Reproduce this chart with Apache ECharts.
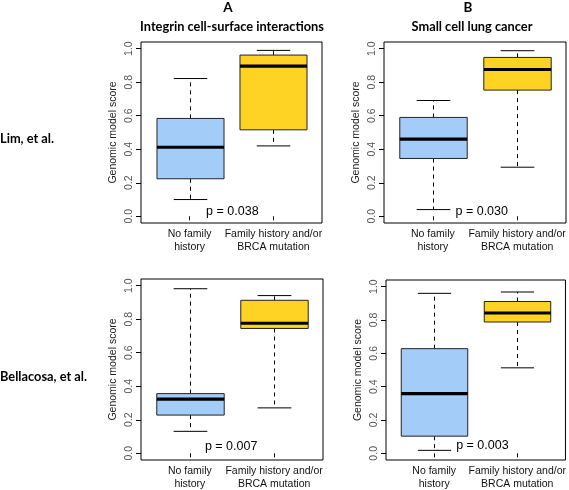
<!DOCTYPE html>
<html><head><meta charset="utf-8">
<script src="https://cdn.jsdelivr.net/npm/echarts@6/dist/echarts.min.js"></script>
<style>html,body{margin:0;padding:0;background:#fff}#c{width:569px;height:490px}</style>
</head><body><div id="c"></div><script>
// ---- data ----
const categories = ['No family\nhistory', 'Family history and/or\nBRCA mutation'];
const yTicks = [0, 0.2, 0.4, 0.6, 0.8, 1.0];
// each box: [low whisker, Q1, median, Q3, high whisker]
const limIntegrin = [[0.10, 0.224, 0.412, 0.584, 0.822], [0.42, 0.516, 0.896, 0.962, 0.99]];
const limSclc = [[0.04, 0.345, 0.46, 0.59, 0.691], [0.293, 0.753, 0.876, 0.948, 0.988]];
const bellacosaIntegrin = [[0.131, 0.228, 0.323, 0.356, 0.982], [0.271, 0.745, 0.776, 0.913, 0.941]];
const bellacosaSclc = [[0.018, 0.103, 0.358, 0.628, 0.96], [0.513, 0.788, 0.842, 0.911, 0.968]];
const pValues = ['p = 0.038', 'p = 0.030', 'p = 0.007', 'p = 0.003'];
const columnLetters = ['A', 'B'];
const columnTitles = ['Integrin cell-surface interactions', 'Small cell lung cancer'];
const rowTitles = ['Lim, et al.', 'Bellacosa, et al.'];
const yName = 'Genomic model score';

// ---- layout / style ----
const boxColors = ['#a3cdf8', '#ffd324'];
const panels = [
  {data: limIntegrin, p: pValues[0], pPos: [1.51, 0.03], grid: {left: 141, top: 42, width: 181, height: 181}},
  {data: limSclc, p: pValues[1], pPos: [1.58, 0.03], grid: {left: 384, top: 42, width: 182, height: 181}},
  {data: bellacosaIntegrin, p: pValues[2], pPos: [1.49, 0.04], grid: {left: 141, top: 279, width: 182, height: 182}},
  {data: bellacosaSclc, p: pValues[3], pPos: [1.58, 0.045], grid: {left: 386, top: 280, width: 182, height: 181}}
];

function renderBox(params, api) {
  const x = api.value(0);
  const ys = [1, 2, 3, 4, 5].map(i => api.coord([x, api.value(i)])[1]);
  const [yLo, yQ1, yMd, yQ3, yHi] = ys;
  const cx = Math.round(api.coord([x, 0])[0]) + 0.5;
  const w = api.size([0.8, 0])[0];
  const dashed = {stroke: '#000', lineWidth: 1, lineDash: [4, 4]};
  const solid = {stroke: '#000', lineWidth: 1};
  return {type: 'group', children: [
    {type: 'line', shape: {x1: cx, y1: yQ3, x2: cx, y2: yHi}, style: dashed},
    {type: 'line', shape: {x1: cx, y1: yQ1, x2: cx, y2: yLo}, style: dashed},
    {type: 'line', shape: {x1: cx - w / 4, y1: yHi, x2: cx + w / 4, y2: yHi}, style: solid},
    {type: 'line', shape: {x1: cx - w / 4, y1: yLo, x2: cx + w / 4, y2: yLo}, style: solid},
    {type: 'rect', shape: {x: cx - w / 2, y: yQ3, width: w, height: yQ1 - yQ3},
      style: {fill: boxColors[params.dataIndex], stroke: '#222', lineWidth: 1}},
    {type: 'line', shape: {x1: cx - w / 2, y1: yMd, x2: cx + w / 2, y2: yMd}, style: {stroke: '#000', lineWidth: 3.2}}
  ]};
}
function renderP(params, api) {
  const c = api.coord([api.value(0), api.value(1)]);
  return {type: 'text', x: c[0], y: c[1], style: {text: panels[params.seriesIndex / 2 | 0].p,
    textAlign: 'center', textVerticalAlign: 'middle', fill: '#000',
    font: '12.5px "Liberation Sans", Arial, sans-serif'}};
}

const grids = [], xAxes = [], yAxes = [], series = [];
panels.forEach((pn, i) => {
  grids.push(Object.assign({show: true, borderColor: '#000', borderWidth: 1, backgroundColor: 'transparent'}, pn.grid));
  xAxes.push({type: 'value', gridIndex: i, min: 0.42, max: 2.58,
    axisLine: {show: false}, splitLine: {show: false},
    axisTick: {show: true, customValues: [1, 2], length: 4, lineStyle: {color: '#000'}},
    axisLabel: {customValues: [1, 2], formatter: v => categories[Math.round(v) - 1], margin: 5,
      fontSize: 10.5, lineHeight: 12.5, color: '#111', fontFamily: '"Liberation Sans", Arial, sans-serif'}});
  yAxes.push({type: 'value', gridIndex: i, min: -0.04, max: 1.04,
    axisLine: {show: false}, splitLine: {show: false},
    axisTick: {show: true, customValues: yTicks, length: 5, lineStyle: {color: '#000'}},
    axisLabel: {customValues: yTicks, rotate: 90, formatter: v => v.toFixed(1), margin: 6,
      fontSize: 10.5, color: '#555', fontFamily: '"Liberation Sans", Arial, sans-serif'},
    name: yName, nameLocation: 'middle', nameGap: 22,
    nameTextStyle: {fontSize: 10.5, color: '#222', fontFamily: '"Liberation Sans", Arial, sans-serif'}});
  series.push({type: 'custom', xAxisIndex: i, yAxisIndex: i, renderItem: renderBox,
    encode: {x: 0, y: [1, 2, 3, 4, 5]}, data: pn.data.map((b, k) => [k + 1].concat(b)), silent: true});
  series.push({type: 'custom', xAxisIndex: i, yAxisIndex: i, renderItem: renderP,
    data: [pn.pPos], silent: true});
});

const titleFont = 'bold 12.8px Lato, "Open Sans", sans-serif';
const letterFont = 'bold 13.5px Lato, "Open Sans", sans-serif';
const graphics = [
  {type: 'text', x: 228, y: 8, style: {text: columnLetters[0], font: letterFont, textAlign: 'center', textVerticalAlign: 'middle', fill: '#000'}},
  {type: 'text', x: 232, y: 27, style: {text: columnTitles[0], font: titleFont, textAlign: 'center', textVerticalAlign: 'middle', fill: '#000'}},
  {type: 'text', x: 468, y: 8, style: {text: columnLetters[1], font: letterFont, textAlign: 'center', textVerticalAlign: 'middle', fill: '#000'}},
  {type: 'text', x: 472, y: 27, style: {text: columnTitles[1], font: titleFont, textAlign: 'center', textVerticalAlign: 'middle', fill: '#000'}},
  {type: 'text', x: 0, y: 139, style: {text: rowTitles[0], font: titleFont, textAlign: 'left', textVerticalAlign: 'middle', fill: '#000'}},
  {type: 'text', x: 0, y: 377, style: {text: rowTitles[1], font: titleFont, textAlign: 'left', textVerticalAlign: 'middle', fill: '#000'}}
];

const chart = echarts.init(document.getElementById('c'), null, {renderer: 'canvas'});
chart.setOption({animation: false, backgroundColor: '#fff', grid: grids, xAxis: xAxes, yAxis: yAxes, series: series, graphic: graphics});
</script></body></html>
